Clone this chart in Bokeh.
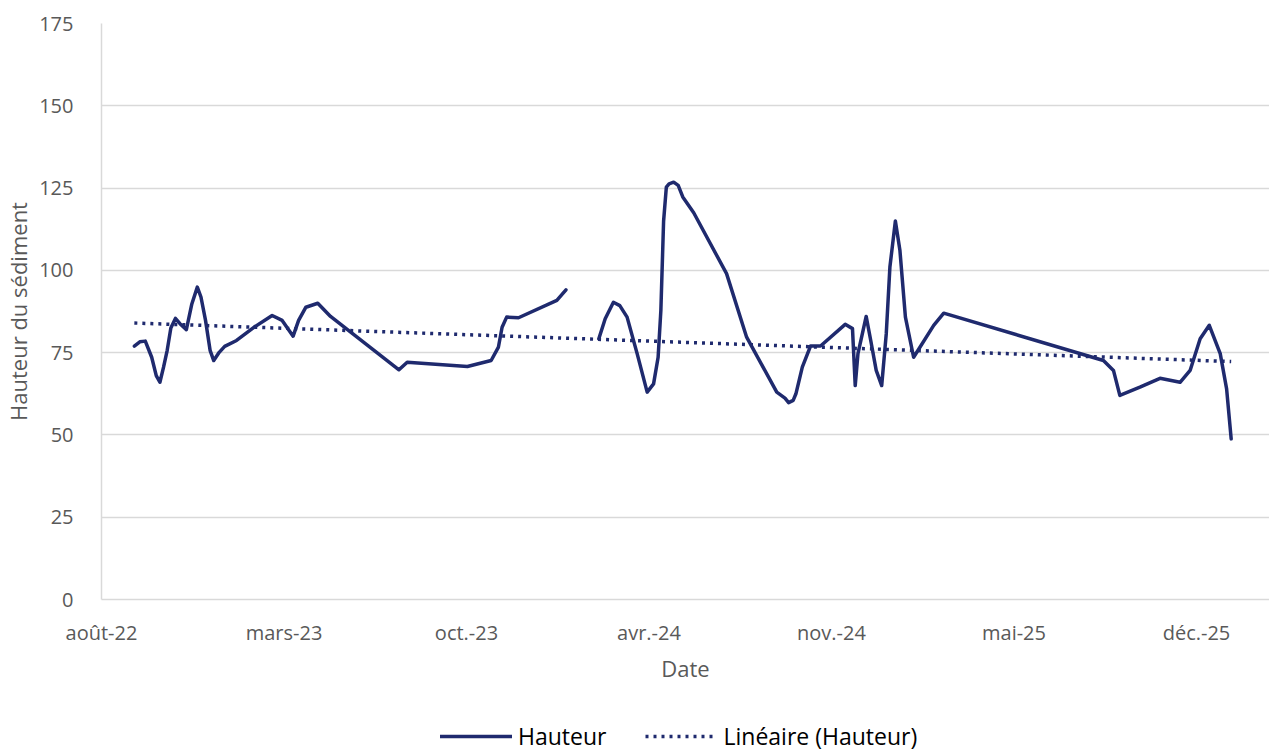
from datetime import date
import numpy as np
from bokeh.plotting import figure
from bokeh.layouts import column
from bokeh.models import ColumnDataSource, Range1d, FixedTicker, Legend, LegendItem
from bokeh.embed import file_html
from bokeh.resources import INLINE

# ---- data ----
dates = [
    "2022-10-03", "2022-10-09", "2022-10-15", "2022-10-22", "2022-10-27", "2022-10-31",
    "2022-11-04", "2022-11-08", "2022-11-12", "2022-11-17", "2022-11-22", "2022-11-29",
    "2022-12-05", "2022-12-11", "2022-12-15", "2022-12-20", "2022-12-25", "2022-12-29",
    "2023-01-04", "2023-01-10", "2023-01-23", "2023-02-11", "2023-03-03", "2023-03-14",
    "2023-03-26", "2023-04-01", "2023-04-09", "2023-04-22", "2023-05-06", "2023-07-20",
    "2023-07-29", "2023-10-03", "2023-10-29", "2023-11-06", "2023-11-10", "2023-11-15",
    "2023-11-28", "2024-01-09", "2024-01-19",
    "2024-02-06",
    "2024-02-24", "2024-03-02", "2024-03-11", "2024-03-18", "2024-03-26", "2024-04-06",
    "2024-04-17", "2024-04-24", "2024-04-29", "2024-05-02", "2024-05-05", "2024-05-08",
    "2024-05-11", "2024-05-16", "2024-05-21", "2024-05-26", "2024-06-07", "2024-07-13",
    "2024-08-04", "2024-08-22", "2024-09-06", "2024-09-15", "2024-09-19", "2024-09-24",
    "2024-09-27", "2024-10-04", "2024-10-13", "2024-10-24",
    "2024-11-20", "2024-11-28", "2024-12-01", "2024-12-04", "2024-12-13", "2024-12-18",
    "2024-12-24", "2024-12-30", "2025-01-04", "2025-01-08", "2025-01-14", "2025-01-19",
    "2025-01-25", "2025-02-03", "2025-02-25", "2025-03-08", "2025-08-30", "2025-09-10",
    "2025-09-17", "2025-10-09", "2025-10-31", "2025-11-22", "2025-12-03", "2025-12-14",
    "2025-12-24", "2026-01-05", "2026-01-12", "2026-01-17",
]
hauteur = [
    77.0, 78.3, 78.5, 73.6, 68.0, 66.0,
    70.6, 75.7, 82.5, 85.4, 83.8, 82.0,
    89.8, 94.9, 91.9, 84.8, 75.7, 72.6,
    75.1, 76.9, 78.7, 82.7, 86.3, 84.8,
    80.0, 84.8, 88.8, 90.0, 86.0, 69.8,
    72.1, 70.8, 72.6, 76.7, 82.7, 85.8,
    85.6, 90.9, 94.1,
    None,
    79.2, 85.3, 90.3, 89.3, 85.8, 74.7,
    63.0, 65.5, 73.6, 87.8, 115.0, 125.3,
    126.3, 126.8, 125.8, 122.3, 117.5, 99.0,
    79.7, 70.6, 63.0, 61.2, 59.8, 60.5,
    62.5, 70.6, 77.0, 77.0,
    83.6, 82.3, 65.0, 74.7, 86.0, 78.7,
    69.6, 65.0, 80.7, 101.0, 115.0, 106.0,
    85.8, 73.6, 83.3, 87.0, 72.6, 69.6,
    62.0, 64.5, 67.2, 66.0, 69.6, 79.2,
    83.3, 74.7, 64.0, 48.8,
]
trend_dates = ["2022-10-03", "2026-01-17"]
trend_values = [84.0, 72.3]

tick_labels = ["août-22", "mars-23", "oct.-23", "avr.-24", "nov.-24", "mai-25", "déc.-25"]
y_ticks = [0, 25, 50, 75, 100, 125, 150, 175]
legend_labels = ["Hauteur", "Linéaire (Hauteur)"]

# ---- axis layout (days since axis origin) ----
origin = date(2022, 8, 28)
tick_step = 200
x_end = 1280


def to_days(ds):
    return [(date.fromisoformat(d) - origin).days for d in ds]


x = to_days(dates)
y = [np.nan if v is None else v for v in hauteur]
src = ColumnDataSource(dict(x=x, y=y))
tsrc = ColumnDataSource(dict(x=to_days(trend_dates), y=trend_values))

NAVY = "#1F2A6E"
GREY = "#595959"
FONT = "Open Sans"
W = 1269

p = figure(width=W, height=720, output_backend="svg", toolbar_location=None,
           x_range=Range1d(0, x_end), y_range=Range1d(0, 175),
           min_border_left=101, min_border_right=0, min_border_top=23, min_border_bottom=121)
p.outline_line_color = None
p.background_fill_color = "white"
p.border_fill_color = "white"

line_style = dict(line_color=NAVY, line_width=3.5, line_join="round", line_cap="round")
trend_style = dict(line_color=NAVY, line_width=3.5, line_dash="3 5")
p.line("x", "y", source=src, **line_style)
p.line("x", "y", source=tsrc, **trend_style)

ticks = [i * tick_step for i in range(len(tick_labels))]
p.xaxis.ticker = FixedTicker(ticks=ticks)
p.xaxis.major_label_overrides = {t: l for t, l in zip(ticks, tick_labels)}
p.yaxis.ticker = FixedTicker(ticks=y_ticks)

for ax in (p.xaxis, p.yaxis):
    ax.major_tick_line_color = None
    ax.minor_tick_line_color = None
    ax.axis_line_color = "#D9D9D9"
    ax.axis_line_width = 1.5
    ax.major_label_text_font = FONT
    ax.major_label_text_font_size = "20px"
    ax.major_label_text_color = GREY
    ax.axis_label_text_font = FONT
    ax.axis_label_text_font_size = "22px"
    ax.axis_label_text_font_style = "normal"
    ax.axis_label_text_color = GREY

p.xaxis.axis_label = "Date"
p.yaxis.axis_label = "Hauteur du sédiment"
p.xaxis.major_label_standoff = 13
p.xaxis.axis_label_standoff = 4
p.yaxis.major_label_standoff = 22
p.yaxis.axis_label_standoff = 3

p.xgrid.grid_line_color = None
p.ygrid.grid_line_color = "#D9D9D9"
p.ygrid.grid_line_width = 1.5

# ---- legend strip below the chart ----
lg = figure(width=W, height=32, output_backend="svg", toolbar_location=None,
            x_axis_type=None, y_axis_type=None,
            x_range=Range1d(0, 1), y_range=Range1d(0, 1),
            min_border_left=0, min_border_right=0, min_border_top=0, min_border_bottom=0)
lg.grid.visible = False
lg.outline_line_color = None
lr1 = lg.line([5, 6], [5, 6], **line_style)
lr2 = lg.line([5, 6], [5, 6], **trend_style)
legend = Legend(items=[LegendItem(label=legend_labels[0], renderers=[lr1]),
                       LegendItem(label=legend_labels[1], renderers=[lr2])],
                orientation="horizontal", location=(339, 0),
                label_text_font=FONT, label_text_font_size="23px", label_text_color="#000000",
                glyph_width=72, label_standoff=6, spacing=39,
                border_line_color=None, background_fill_alpha=0,
                padding=0, margin=0)
lg.add_layout(legend, "center")

open("out.html", "w").write(file_html(column(p, lg, spacing=0), INLINE))
